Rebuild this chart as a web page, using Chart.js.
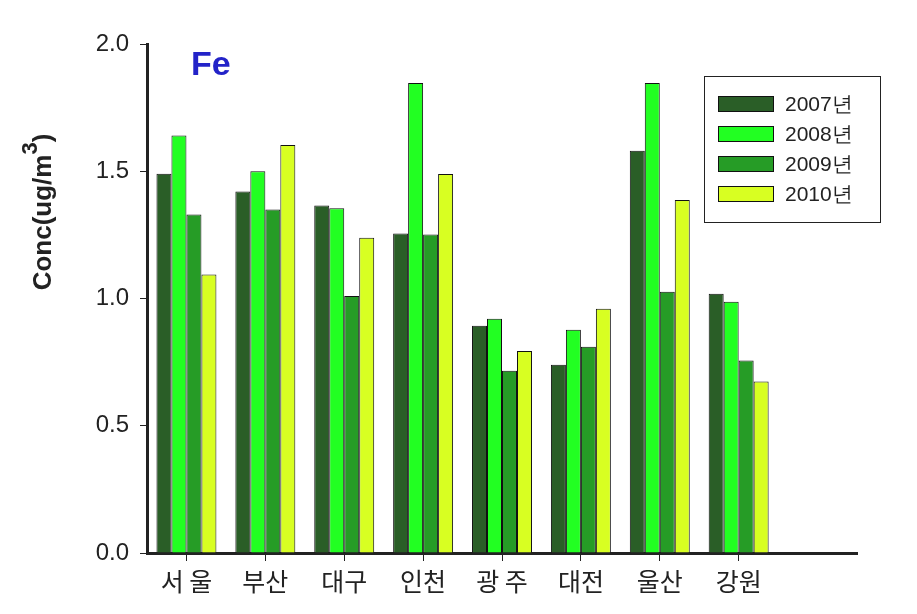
<!DOCTYPE html>
<html>
<head>
<meta charset="utf-8">
<script src="https://cdn.jsdelivr.net/npm/chart.js@4.4.1/dist/chart.umd.min.js"></script>
<style>
html,body{margin:0;padding:0;background:#fff;}
#wrap{width:917px;height:614px;position:relative;}
</style>
</head>
<body>
<div id="wrap"><canvas id="c" width="917" height="614"></canvas></div>
<script>
const categories = ['서 울', '부산', '대구', '인천', '광 주', '대전', '울산', '강원', ''];
const seriesNames = ['2007년', '2008년', '2009년', '2010년'];
const v2007 = [1.49, 1.42, 1.365, 1.255, 0.893, 0.740, 1.581, 1.019, null];
const v2008 = [1.64, 1.50, 1.355, 1.847, 0.920, 0.877, 1.847, 0.987, null];
const v2009 = [1.33, 1.35, 1.010, 1.251, 0.716, 0.810, 1.027, 0.756, null];
const v2010 = [1.094, 1.603, 1.239, 1.489, 0.794, 0.960, 1.387, 0.674, null];
const yTicks = [0, 0.5, 1.0, 1.5, 2.0];
const colors = ['#2a5e27', '#22ff22', '#269c26', '#d8ff22'];

const AX = '#222222';
const FONT = "Arial, 'Liberation Sans', sans-serif";

const overlay = {
  id: 'overlay',
  afterDraw(chart) {
    const ctx = chart.ctx;
    ctx.save();
    // Fe label
    ctx.fillStyle = '#2323c8';
    ctx.font = "bold 34px " + FONT;
    ctx.textBaseline = 'middle';
    ctx.textAlign = 'left';
    ctx.fillText('Fe', 191, 66);
    // Y title with superscript
    ctx.translate(41, 212);
    ctx.rotate(-Math.PI / 2);
    ctx.fillStyle = AX;
    const main = 'Conc(ug/m', sup = '3', end = ')';
    ctx.font = "bold 26px " + FONT;
    const w1 = ctx.measureText(main).width;
    const w3 = ctx.measureText(end).width;
    ctx.font = "bold 22px " + FONT;
    const w2 = ctx.measureText(sup).width;
    const total = w1 + w2 + w3;
    let x = -total / 2;
    ctx.textBaseline = 'alphabetic';
    ctx.font = "bold 26px " + FONT;
    ctx.fillText(main, x, 10);
    x += w1;
    ctx.font = "bold 22px " + FONT;
    ctx.fillText(sup, x, -4);
    x += w2;
    ctx.font = "bold 26px " + FONT;
    ctx.fillText(end, x, 10);
    ctx.restore();

    // Legend
    ctx.save();
    ctx.strokeStyle = AX;
    ctx.lineWidth = 1;
    ctx.fillStyle = '#fff';
    ctx.fillRect(704.5, 76.5, 176, 146);
    ctx.strokeRect(704.5, 76.5, 176, 146);
    const rows = [104, 134, 164, 194];
    chart.data.datasets.forEach((ds, i) => {
      ctx.fillStyle = ds.backgroundColor;
      ctx.fillRect(718.5, rows[i] - 7.5, 55, 15);
      ctx.strokeStyle = '#111';
      ctx.strokeRect(718.5, rows[i] - 7.5, 55, 15);
      ctx.fillStyle = AX;
      ctx.font = "21px " + FONT;
      ctx.textBaseline = 'middle';
      ctx.textAlign = 'left';
      ctx.fillText(ds.label, 785, rows[i] + 1);
    });
    ctx.restore();
  }
};

new Chart(document.getElementById('c'), {
  type: 'bar',
  data: {
    labels: categories,
    datasets: [v2007, v2008, v2009, v2010].map((d, i) => ({
      label: seriesNames[i],
      data: d,
      backgroundColor: colors[i],
      borderColor: '#111',
      borderWidth: 1,
      categoryPercentage: 0.76,
      barPercentage: 1.0
    }))
  },
  options: {
    responsive: false,
    animation: false,
    events: [],
    layout: { padding: { left: 0, top: 44, right: 60, bottom: 0 } },
    plugins: { legend: { display: false }, tooltip: { enabled: false } },
    scales: {
      x: {
        grid: {
          offset: false,
          drawOnChartArea: false,
          drawTicks: true,
          tickLength: 8,
          lineWidth: 1,
          color: (c) => (c.index === 8 ? 'rgba(0,0,0,0)' : AX)
        },
        border: { color: AX, width: 3 },
        ticks: {
          color: AX,
          padding: 5,
          font: { family: "'Noto Sans CJK KR', sans-serif", size: 25 },
          maxRotation: 0,
          autoSkip: false
        },
        afterFit(s) { s.height = 61; }
      },
      y: {
        min: 0,
        max: 2.0,
        afterBuildTicks(s) { s.ticks = yTicks.map(v => ({ value: v })); },
        grid: {
          drawOnChartArea: false,
          drawTicks: true,
          tickLength: 7,
          lineWidth: 1,
          color: AX
        },
        border: { color: AX, width: 3 },
        ticks: {
          color: AX,
          padding: 11,
          font: { family: FONT, size: 24 },
          callback: (v) => Number(v).toFixed(1)
        },
        afterFit(s) { s.width = 147; }
      }
    }
  },
  plugins: [overlay]
});
</script>
</body>
</html>
